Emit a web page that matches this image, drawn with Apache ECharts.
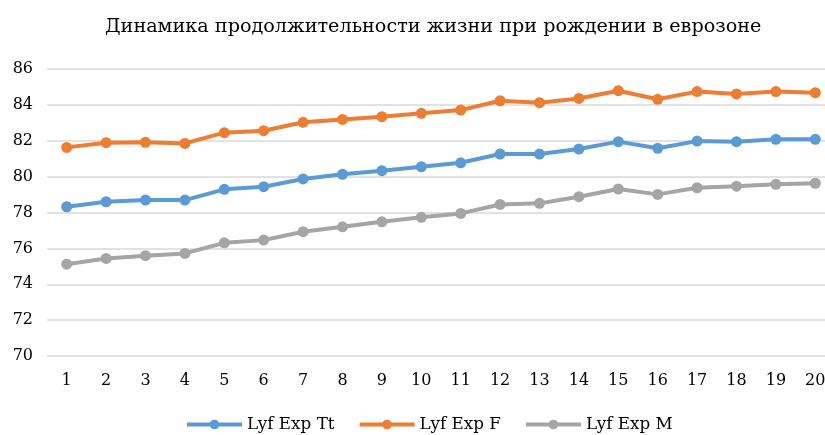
<!DOCTYPE html>
<html>
<head>
<meta charset="utf-8">
<script src="https://cdn.jsdelivr.net/npm/echarts@6/dist/echarts.min.js"></script>
<style>
  html, body { margin: 0; padding: 0; background: #fff; }
</style>
</head>
<body>
<div id="lifeChart" style="width: 825px;height:435px;"></div>
<script>
var categories = ['1', '2', '3', '4', '5', '6', '7', '8', '9', '10', '11', '12', '13', '14', '15', '16', '17', '18', '19', '20']
var seriesNames = ['Lyf Exp Tt', 'Lyf Exp F', 'Lyf Exp M']
var totalValues = [78.32, 78.6, 78.69, 78.69, 79.29, 79.44, 79.87, 80.13, 80.33, 80.55, 80.77, 81.26, 81.26, 81.54, 81.95, 81.58, 81.98, 81.95, 82.08, 82.08]
var femaleValues = [81.63, 81.89, 81.91, 81.85, 82.45, 82.56, 83.03, 83.19, 83.34, 83.53, 83.71, 84.23, 84.12, 84.36, 84.79, 84.31, 84.74, 84.61, 84.74, 84.68]
var maleValues = [75.12, 75.44, 75.59, 75.72, 76.31, 76.46, 76.93, 77.2, 77.48, 77.73, 77.95, 78.45, 78.51, 78.88, 79.31, 79.01, 79.38, 79.47, 79.57, 79.63]
var colors = ['#5B9BD5', '#ED7D31', '#A5A5A5']

var font = 'DejaVu Serif'

function makeSeries (name, values, color) {
  return {
    name: name,
    type: 'line',
    data: values,
    symbol: 'circle',
    symbolSize: 11,
    lineStyle: { width: 4, color: color },
    itemStyle: { color: color },
    emphasis: { disabled: true }
  }
}

var option = {
  animation: false,
  title: {
    text: 'Динамика продолжительности жизни при рождении в еврозоне',
    left: 100,
    top: 13,
    textStyle: {
      fontFamily: font,
      fontSize: 19.2,
      fontWeight: 'normal',
      color: '#000'
    }
  },
  legend: {
    top: 416,
    left: 185,
    padding: 0,
    itemWidth: 55,
    itemHeight: 12,
    itemGap: 23,
    lineStyle: { width: 4 },
    textStyle: {
      fontFamily: font,
      fontSize: 16.8,
      color: '#000'
    },
    data: seriesNames
  },
  grid: {
    left: 47,
    top: 69,
    width: 788,
    height: 287,
    outerBoundsMode: 'none'
  },
  xAxis: {
    type: 'category',
    data: categories,
    boundaryGap: true,
    axisLine: { show: false },
    axisTick: { show: false },
    axisLabel: {
      fontFamily: font,
      fontSize: 16,
      color: '#000',
      margin: 17
    }
  },
  yAxis: {
    type: 'value',
    min: 70,
    max: 86,
    interval: 2,
    axisLine: { show: false },
    axisTick: { show: false },
    splitLine: {
      lineStyle: { color: '#D9D9D9', width: 1.5 }
    },
    axisLabel: {
      fontFamily: font,
      fontSize: 16,
      color: '#000',
      margin: 14
    }
  },
  series: [
    makeSeries(seriesNames[0], totalValues, colors[0]),
    makeSeries(seriesNames[1], femaleValues, colors[1]),
    makeSeries(seriesNames[2], maleValues, colors[2])
  ]
}

var myChart = echarts.init(document.getElementById('lifeChart'))
myChart.setOption(option)
</script>
</body>
</html>
